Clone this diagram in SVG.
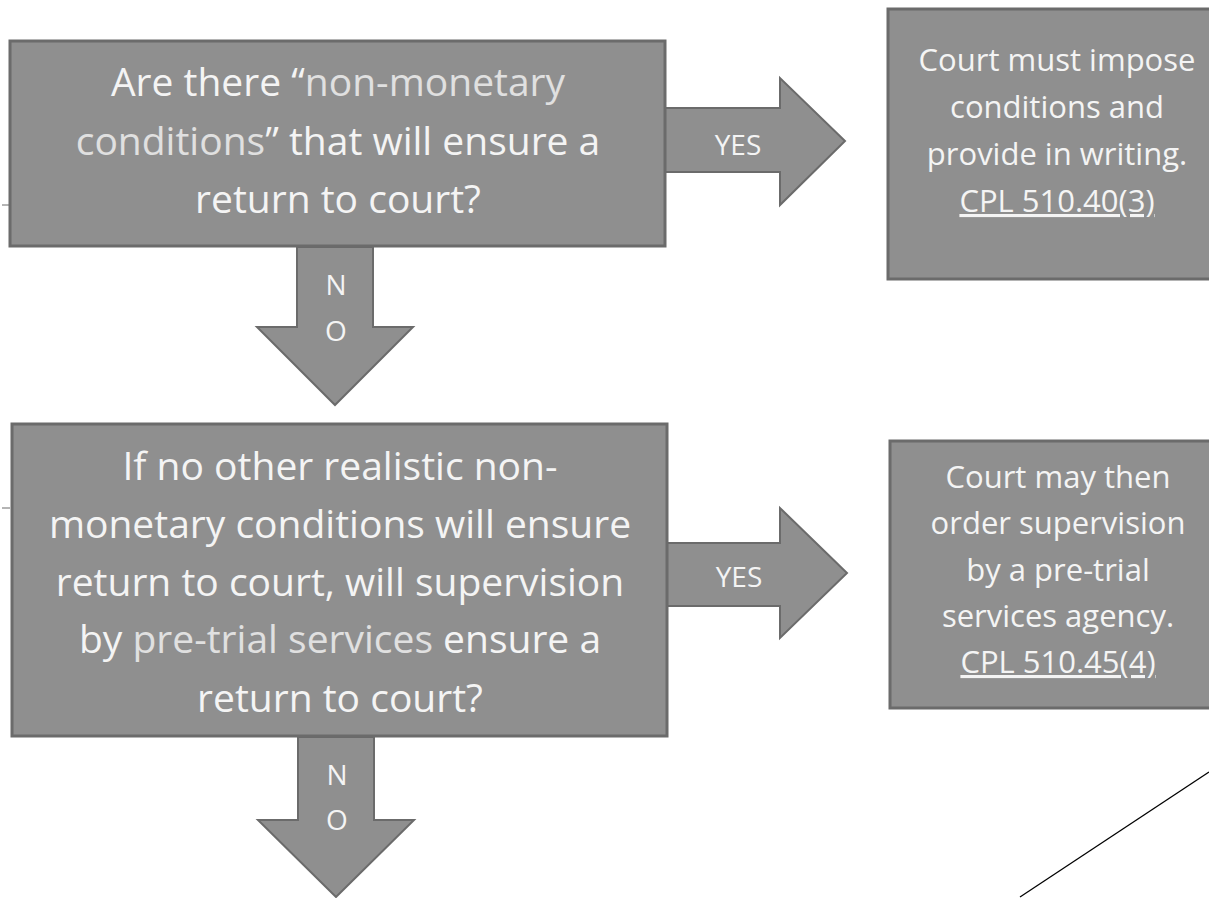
<svg xmlns="http://www.w3.org/2000/svg" width="1209" height="898" viewBox="0 0 1209 898">
  <style>
    .box { fill: #8f8f8f; stroke: #6b6b6b; stroke-width: 3; }
    .arrow { fill: #8f8f8f; stroke: #6b6b6b; stroke-width: 2; stroke-linejoin: miter; }
    .t { font-family: "Open Sans", "Noto Sans", "Liberation Sans", sans-serif; fill: #f4f4f4; text-anchor: middle; font-variant-ligatures: none; }
    .big { font-size: 39px; }
    .mid { font-size: 31px; }
    .lbl { font-size: 28px; }
    .soft { fill: #e0e0e0; }
    .link { text-decoration: underline; }
  </style>
  <rect width="1209" height="898" fill="#ffffff"/>

  <!-- connectors -->
  <g id="connectors">
    <!-- YES: question 1 to outcome 1 -->
    <polygon class="arrow" points="665,108 780,108 780,78 845,141 780,205 780,172 665,172"/>
    <text class="t lbl" x="738" y="155">YES</text>
    <!-- NO: question 1 down to question 2 -->
    <polygon class="arrow" points="297,247 373,247 373,327 413,327 335,405 257,327 297,327"/>
    <text class="t lbl" x="336" y="295">N</text>
    <text class="t lbl" x="336" y="341">O</text>
    <!-- YES: question 2 to outcome 2 -->
    <polygon class="arrow" points="667,543 780,543 780,508 847,573 780,638 780,606 667,606"/>
    <text class="t lbl" x="739" y="587">YES</text>
    <!-- NO: question 2 continues downward -->
    <polygon class="arrow" points="298,737 374,737 374,820 414,820 336,897 258,820 298,820"/>
    <text class="t lbl" x="337" y="785">N</text>
    <text class="t lbl" x="337" y="830">O</text>
    <!-- diagonal line in the lower right -->
    <line x1="1020" y1="897" x2="1209" y2="772" stroke="#000000" stroke-width="1.3"/>
    <!-- small left-edge ticks -->
    <line x1="2" y1="205" x2="10" y2="205" stroke="#6b6b6b" stroke-width="1"/>
    <line x1="2" y1="508" x2="10" y2="508" stroke="#6b6b6b" stroke-width="1"/>
  </g>

  <g id="q1">
    <rect class="box" x="10" y="41" width="655" height="205"/>
    <text class="t big" x="338" y="96">Are there “<tspan class="soft">non-monetary</tspan></text>
    <text class="t big" x="338" y="155"><tspan class="soft">conditions</tspan>” that will ensure a</text>
    <text class="t big" x="338" y="213">return to court?</text>
  </g>

  <g id="outcome1">
    <rect class="box" x="888" y="9" width="340" height="270"/>
    <text class="t mid" x="1057" y="71">Court must impose</text>
    <text class="t mid" x="1057" y="118">conditions and</text>
    <text class="t mid" x="1057" y="165">provide in writing.</text>
    <text class="t mid link" x="1057" y="212">CPL 510.40(3)</text>
  </g>

  <g id="q2">
    <rect class="box" x="12" y="424" width="655" height="312"/>
    <text class="t big" x="340" y="480">If no other realistic non-</text>
    <text class="t big" x="340" y="538">monetary conditions will ensure</text>
    <text class="t big" x="340" y="596">return to court, will supervision</text>
    <text class="t big" x="340" y="653">by <tspan class="soft">pre-trial services</tspan> ensure a</text>
    <text class="t big" x="340" y="712">return to court?</text>
  </g>

  <g id="outcome2">
    <rect class="box" x="890" y="441" width="336" height="267"/>
    <text class="t mid" x="1058" y="488">Court may then</text>
    <text class="t mid" x="1058" y="534">order supervision</text>
    <text class="t mid" x="1058" y="581">by a pre-trial</text>
    <text class="t mid" x="1058" y="627">services agency.</text>
    <text class="t mid link" x="1058" y="673">CPL 510.45(4)</text>
  </g>
</svg>
